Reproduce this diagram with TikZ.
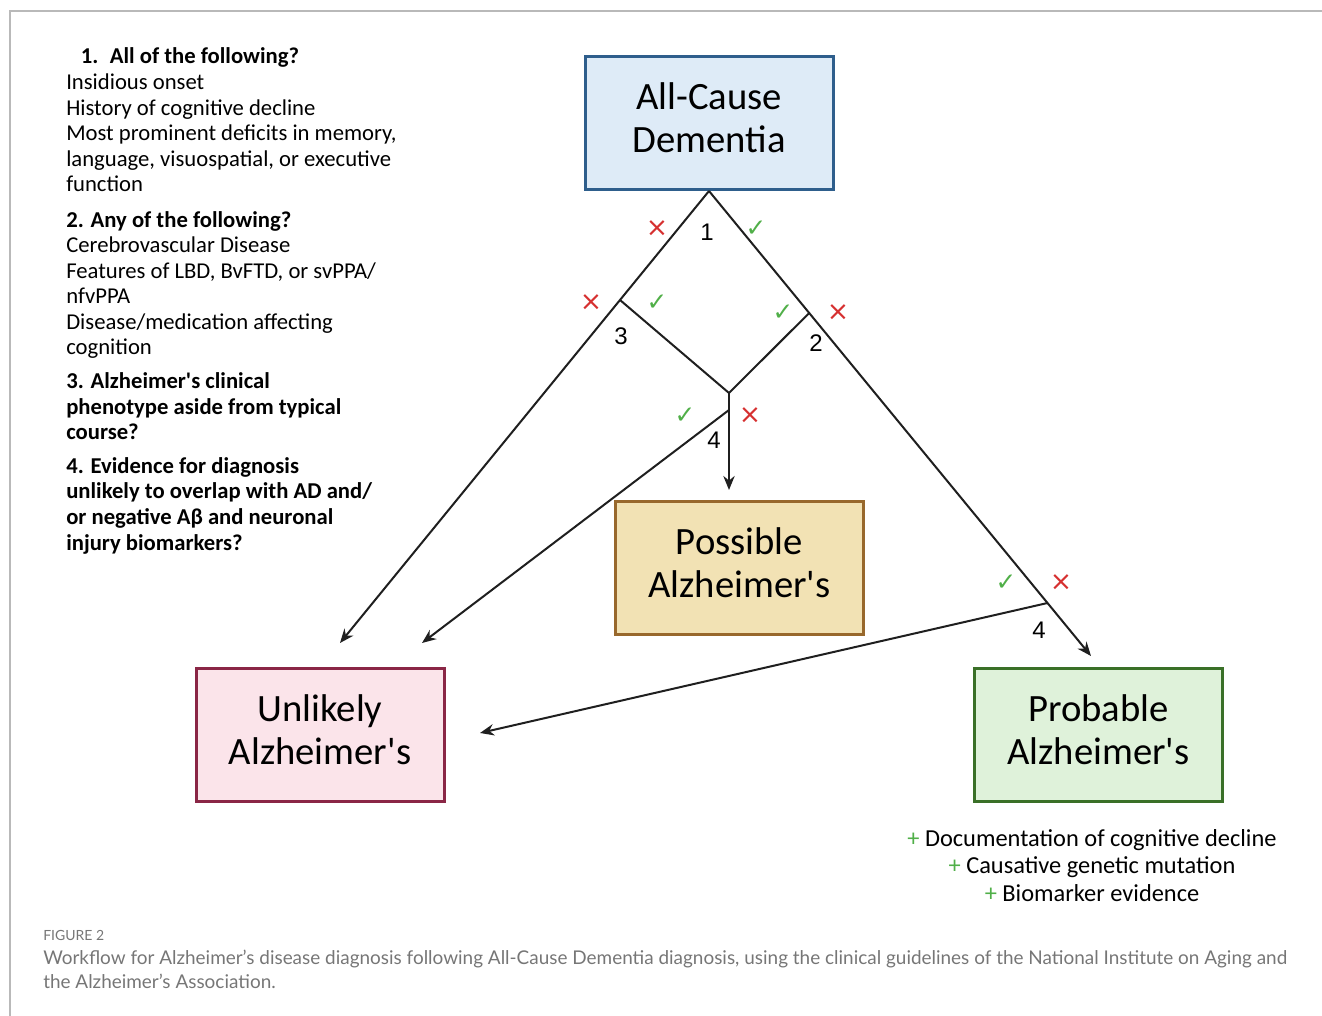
\documentclass[tikz,border=0pt]{standalone}
\usepackage{fontspec}
\setmainfont{Carlito}[Ligatures=TeXOff]
\newfontfamily\capfont{Lato}
\newfontfamily\numfont{Liberation Sans}
\newfontfamily\symfont{DejaVu Sans}
\usetikzlibrary{arrows.meta}

\definecolor{acdfill}{RGB}{222,235,247}
\definecolor{acddraw}{RGB}{46,94,140}
\definecolor{posfill}{RGB}{242,226,180}
\definecolor{posdraw}{RGB}{152,104,44}
\definecolor{unlfill}{RGB}{251,228,234}
\definecolor{unldraw}{RGB}{138,38,70}
\definecolor{profill}{RGB}{223,242,218}
\definecolor{prodraw}{RGB}{58,112,40}
\definecolor{yescol}{RGB}{80,175,72}
\definecolor{nocol}{RGB}{214,48,48}
\definecolor{capgray}{RGB}{118,118,118}
\definecolor{framegray}{RGB}{185,185,185}

\begin{document}
\begin{tikzpicture}[x=0.75pt,y=0.75pt,yscale=-1,xscale=1,
	dxbox/.style={draw, line width=2.25pt, minimum width=186pt, minimum height=99.75pt, inner sep=0pt, text depth=8.5pt, align=center, font=\fontsize{29}{32.5}\selectfont},
	flow/.style={line width=1.5pt, color=black!88},
	flowarr/.style={flow, -{Stealth[length=10.5pt,width=8.5pt]}},
	yesmark/.style={inner sep=0pt, text=yescol, font=\symfont\fontsize{18.5}{18.5}\selectfont},
	nomark/.style={inner sep=0pt, text=nocol, font=\symfont\fontsize{20}{20}\selectfont},
	qnum/.style={inner sep=0pt, font=\numfont\fontsize{18}{18}\selectfont},
	qtext/.style={anchor=base west, inner sep=0pt, align=left, font=\fontsize{17}{19.2}\selectfont}
	]
	\path[use as bounding box] (0,0) rectangle (1322,1016);
	%Frame
	\draw[framegray, line width=1.5pt] (10,1016) -- (10,11) -- (1322,11);
	
	%Boxes
	\node[dxbox, fill=acdfill, draw=acddraw] (acd) at (709,123.5) {All-Cause\\Dementia};
	\node[dxbox, fill=posfill, draw=posdraw] (pos) at (739.5,568) {Possible\\Alzheimer's};
	\node[dxbox, fill=unlfill, draw=unldraw] (unl) at (320,735) {Unlikely\\Alzheimer's};
	\node[dxbox, fill=profill, draw=prodraw] (pro) at (1098.5,735) {Probable\\Alzheimer's};
	
	%Junctions and arrow ends
	\coordinate (apex) at (709,191);
	\coordinate (j3) at (620,300);
	\coordinate (j2) at (809.2,313);
	\coordinate (jmid) at (729,393);
	\coordinate (j4a) at (729,410);
	\coordinate (j4b) at (1047.5,603);
	\coordinate (endul) at (340,643);
	\coordinate (endum) at (422,643);
	\coordinate (endur) at (480,733);
	\coordinate (endpos) at (729,490);
	\coordinate (endpro) at (1091,656);
	
	%Straight Lines
	\draw[flowarr] (apex) -- (j3) -- (endul);
	\draw[flowarr] (apex) -- (j2) -- (j4b) -- (endpro);
	\draw[flow] (j3) -- (jmid) -- (j2);
	\draw[flowarr] (jmid) -- (endpos);
	\draw[flowarr] (j4a) -- (endum);
	\draw[flowarr] (j4b) -- (endur);
	
	% Question numbers
	\node[qnum] (n1) at (707,232) {1};
	\node[qnum] (n2) at (816,343) {2};
	\node[qnum] (n3) at (621,336) {3};
	\node[qnum] (n4a) at (714,440) {4};
	\node[qnum] (n4b) at (1039,630) {4};
	
	% Yes / no marks
	\node[nomark] (no1) at (657,229) {×};
	\node[yesmark] (yes1) at (756,229) {✓};
	\node[nomark] (no3) at (591,303) {×};
	\node[yesmark] (yes3) at (657,303) {✓};
	\node[yesmark] (yes2) at (783,313) {✓};
	\node[nomark] (no2) at (838,313) {×};
	\node[yesmark] (yes4a) at (685,416) {✓};
	\node[nomark] (no4a) at (750,416) {×};
	\node[yesmark] (yes4b) at (1006,583) {✓};
	\node[nomark] (no4b) at (1061,583) {×};
	
	% Text Node
	\node[qtext] (q1) at (66,192) {\hspace*{11pt}\textbf{1.\enspace All of the following?}\\Insidious onset\\History of cognitive decline\\Most prominent deficits in memory,\\language, visuospatial, or executive\\function};
	% Text Node
	\node[qtext] (q2) at (66,355) {\textbf{2. Any of the following?}\\Cerebrovascular Disease\\Features of LBD, BvFTD, or svPPA/\\nfvPPA\\Disease/medication affecting\\cognition};
	% Text Node
	\node[qtext] (q3) at (66,440) {\textbf{3. Alzheimer's clinical}\\\textbf{phenotype aside from typical}\\\textbf{course?}};
	% Text Node
	\node[qtext] (q4) at (66,550) {\textbf{4. Evidence for diagnosis}\\\textbf{unlikely to overlap with AD and/}\\\textbf{or negative Aβ and neuronal}\\\textbf{injury biomarkers?}};
	% Text Node
	\node[anchor=base, inner sep=0pt, align=center, font=\fontsize{18.3}{20.6}\selectfont] (plus) at (1092,901) {\textcolor{yescol}{+} Documentation of cognitive decline\\\textcolor{yescol}{+} Causative genetic mutation\\\textcolor{yescol}{+} Biomarker evidence};
	
	% Caption
	\node[anchor=base west, inner sep=0pt, text=capgray, font=\capfont\fontsize{10.5}{12}\selectfont] (fig) at (43,940) {FIGURE 2};
	\node[anchor=base west, inner sep=0pt, align=left, text=capgray, font=\capfont\fontsize{14.2}{18}\selectfont] (cap) at (43,988) {Workflow for Alzheimer’s disease diagnosis following All-Cause Dementia diagnosis, using the clinical guidelines of the National Institute on Aging and\\the Alzheimer’s Association.};
	
\end{tikzpicture}
\end{document}
